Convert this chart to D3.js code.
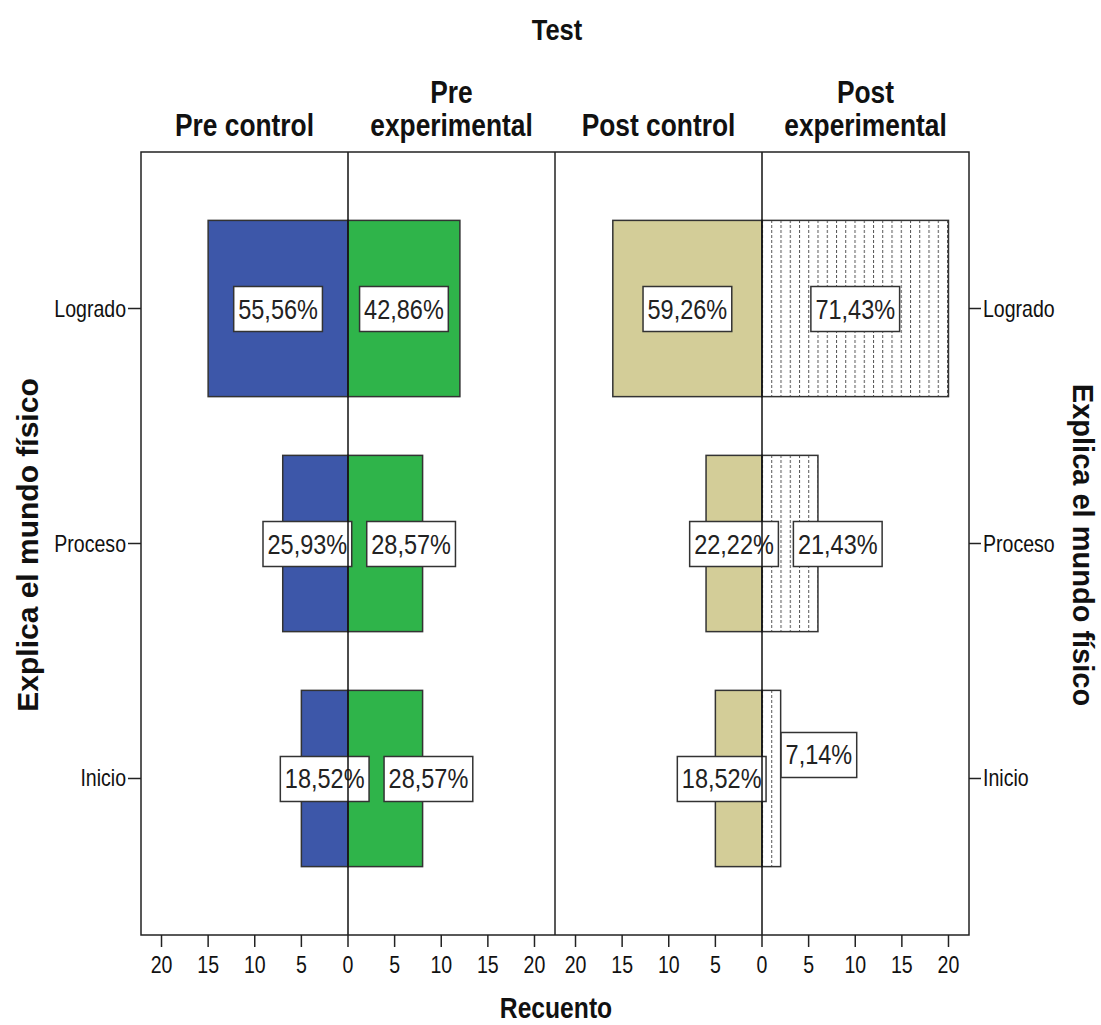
<!DOCTYPE html>
<html><head><meta charset="utf-8">
<script src="https://cdn.jsdelivr.net/npm/d3@7"></script>
<style>html,body{margin:0;padding:0;background:#fff;}svg{display:block;}</style>
</head><body>
<svg id="chart" width="1101" height="1025"></svg>
<script>
// ---- data ----
const categories = ["Logrado", "Proceso", "Inicio"];
const groupLabels = [["Pre control"], ["Pre", "experimental"], ["Post control"], ["Post", "experimental"]];
const preControl = [15, 7, 5];
const preExperimental = [12, 8, 8];
const postControl = [16, 6, 5];
const postExperimental = [20, 6, 2];
const tickValues = [-20, -15, -10, -5, 0, 5, 10, 15, 20];
const titleTop = "Test";
const titleX = "Recuento";
const titleY = "Explica el mundo físico";

// ---- layout / style ----
const W = 1101, H = 1025;
const plotTop = 152, plotBottom = 935, plotLeft = 141, plotRight = 969, plotMid = 555;
const SX = 0.85;        // horizontal squeeze of the reference text
const LSX = 0.84;       // data label squeeze
const FONT = "'Liberation Sans', Arial, sans-serif";
const colors = { preControl: "#3D57A9", preExperimental: "#2FB44A", postControl: "#D3CD98" };
// label collision nudges (SPSS-style placement), keyed panel-category
const leftLabelNudge = { "0-Proceso": -8, "1-Inicio": -17 };
const labelGap = 15;

const svg = d3.select("#chart");
const defs = svg.append("defs");
const pat = defs.append("pattern").attr("id", "dots").attr("patternUnits", "userSpaceOnUse")
  .attr("x", 762).attr("y", 0).attr("width", 9.25).attr("height", 5);
pat.append("rect").attr("width", 9.25).attr("height", 5).attr("fill", "#fff");
pat.append("line").attr("x1", 0.5).attr("x2", 0.5).attr("y1", 0).attr("y2", 3)
  .attr("stroke", "#555").attr("stroke-width", 1);

function txt(g, x, y, s, opts) {
  opts = opts || {};
  const sx = opts.sx || SX;
  const rot = opts.rotate || 0;
  return g.append("text")
    .attr("transform", `translate(${x},${y}) scale(${sx},1)` + (rot ? ` rotate(${rot})` : ""))
    .attr("text-anchor", opts.anchor || "middle")
    .attr("font-family", FONT)
    .attr("font-size", opts.size || 23)
    .attr("font-weight", opts.bold ? "bold" : "normal")
    .attr("fill", opts.fill || "#111")
    .text(s);
}

const y = d3.scalePoint().domain(categories).range([plotTop, plotBottom]).padding(0.666);
const barH = y.step() * 0.75;

const panels = [
  { x0: plotLeft, x1: plotMid, left: preControl, right: preExperimental,
    leftFill: colors.preControl, rightFill: colors.preExperimental },
  { x0: plotMid, x1: plotRight, left: postControl, right: postExperimental,
    leftFill: colors.postControl, rightFill: "url(#dots)" }
];

const fmt = v => d3.format(".2f")(v).replace(".", ",") + "%";

// frame background
svg.append("rect").attr("x", plotLeft).attr("y", plotTop).attr("width", plotRight - plotLeft)
  .attr("height", plotBottom - plotTop).attr("fill", "#fff");

panels.forEach((p, pi) => {
  const x = d3.scaleLinear().domain([-22.2, 22.2]).range([p.x0, p.x1]);
  const g = svg.append("g");
  const leftSum = d3.sum(p.left), rightSum = d3.sum(p.right);

  // bars
  g.selectAll(".lb").data(categories).join("rect")
    .attr("x", (d, i) => x(-p.left[i])).attr("width", (d, i) => x(0) - x(-p.left[i]))
    .attr("y", d => y(d) - barH / 2).attr("height", barH)
    .attr("fill", p.leftFill).attr("stroke", "#333").attr("stroke-width", 1.5);
  g.selectAll(".rb").data(categories).join("rect")
    .attr("x", x(0)).attr("width", (d, i) => x(p.right[i]) - x(0))
    .attr("y", d => y(d) - barH / 2).attr("height", barH)
    .attr("fill", p.rightFill).attr("stroke", "#333").attr("stroke-width", 1.5);

  // labels
  categories.forEach((c, i) => {
    const cy = y(c);
    // left label
    const lg = g.append("g");
    const lcx = (x(-p.left[i]) + x(0)) / 2 + (leftLabelNudge[pi + "-" + c] || 0);
    const lt = txt(lg, lcx, cy + 10, fmt(p.left[i] / leftSum * 100), { sx: LSX, size: 28, fill: "#222" });
    const lw = lt.node().getComputedTextLength() * LSX + 9;
    lg.insert("rect", "text").attr("x", lcx - lw / 2).attr("y", cy - 22).attr("width", lw).attr("height", 45)
      .attr("fill", "#fff").attr("stroke", "#333").attr("stroke-width", 1.5);
    const leftEdgeR = lcx + lw / 2;
    // right label
    const rg = g.append("g");
    const barEnd = x(p.right[i]);
    let rcx = (x(0) + barEnd) / 2;
    const rt = txt(rg, rcx, cy + 10, fmt(p.right[i] / rightSum * 100), { sx: LSX, size: 28, fill: "#222" });
    const rw = rt.node().getComputedTextLength() * LSX + 9;
    let dy = 0;
    if (rcx - rw / 2 < leftEdgeR + labelGap) {
      rcx = leftEdgeR + labelGap + rw / 2;
      if (rcx - rw / 2 >= barEnd - 2) dy = -24;
    }
    rt.attr("transform", `translate(${rcx},${cy + 10 + dy}) scale(${LSX},1)`);
    rg.insert("rect", "text").attr("x", rcx - rw / 2).attr("y", cy - 22 + dy).attr("width", rw).attr("height", 45)
      .attr("fill", "#fff").attr("stroke", "#333").attr("stroke-width", 1.5);
  });

  // center line
  g.append("line").attr("x1", x(0)).attr("x2", x(0)).attr("y1", plotTop).attr("y2", plotBottom)
    .attr("stroke", "#111").attr("stroke-width", 1.5);

  // x ticks
  tickValues.forEach(t => {
    g.append("line").attr("x1", x(t)).attr("x2", x(t)).attr("y1", plotBottom).attr("y2", plotBottom + 12)
      .attr("stroke", "#222").attr("stroke-width", 1.5);
    txt(g, x(t), 973, String(Math.abs(t)), { size: 23 });
  });

  // group headers
  const hl = groupLabels[pi * 2], hr = groupLabels[pi * 2 + 1];
  const lc = (p.x0 + x(0)) / 2, rc = (x(0) + p.x1) / 2;
  [[hl, lc], [hr, rc]].forEach(([lines, cx]) => {
    lines.forEach((s, k) => {
      txt(svg, cx, 136 - (lines.length - 1 - k) * 33, s, { bold: true, size: 31 });
    });
  });
});

// frame
svg.append("rect").attr("x", plotLeft).attr("y", plotTop).attr("width", plotRight - plotLeft)
  .attr("height", plotBottom - plotTop).attr("fill", "none").attr("stroke", "#222").attr("stroke-width", 1.5);
svg.append("line").attr("x1", plotMid).attr("x2", plotMid).attr("y1", plotTop).attr("y2", plotBottom)
  .attr("stroke", "#222").attr("stroke-width", 1.5);

// y ticks & category labels
categories.forEach(c => {
  svg.append("line").attr("x1", plotLeft - 13).attr("x2", plotLeft).attr("y1", y(c)).attr("y2", y(c))
    .attr("stroke", "#222").attr("stroke-width", 1.5);
  svg.append("line").attr("x1", plotRight).attr("x2", plotRight + 12).attr("y1", y(c)).attr("y2", y(c))
    .attr("stroke", "#222").attr("stroke-width", 1.5);
  txt(svg, plotLeft - 15, y(c) + 8, c, { anchor: "end", size: 23 });
  txt(svg, plotRight + 14, y(c) + 8, c, { anchor: "start", size: 23 });
});

// titles
txt(svg, 557, 40, titleTop, { bold: true, size: 30 });
txt(svg, 556, 1018, titleX, { bold: true, size: 29 });
txt(svg, 38, 545, titleY, { bold: true, size: 30, rotate: -90, sx: 1 });
txt(svg, 1073, 545, titleY, { bold: true, size: 29, rotate: 90, sx: 1 });
</script>
</body></html>
